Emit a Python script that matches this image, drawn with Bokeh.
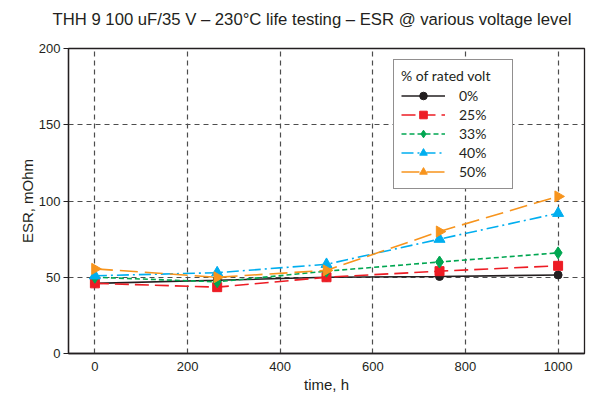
import math
from bokeh.plotting import figure
from bokeh.models import Legend, LegendItem, FixedTicker, Range1d, ColumnDataSource
from bokeh.embed import file_html
from bokeh.resources import INLINE

time_h = [0, 264, 500, 744, 1000]
esr_0 = [46, 48, 50, 50.5, 51.5]
esr_25 = [46, 43.5, 50, 54, 57.5]
esr_33 = [50, 47, 54, 60, 66]
esr_40 = [51, 53, 58.5, 75, 92]
esr_50 = [55.5, 50, 54.5, 80, 103]
series_labels = ["0%", "25%", "33%", "40%", "50%"]
x_ticks = [0, 200, 400, 600, 800, 1000]
y_ticks = [0, 50, 100, 150, 200]
title_text = "THH 9 100 uF/35 V \u2013 230\u00b0C life testing \u2013 ESR @ various voltage level"

FONT = "Liberation Sans"
LFONT = "Lato"

p = figure(width=595, height=395, output_backend="svg", toolbar_location=None,
           x_range=Range1d(-57, 1057), y_range=Range1d(0, 200),
           min_border_left=68, min_border_right=11, min_border_top=48, min_border_bottom=40)

p.title.text = title_text
p.title.text_font = FONT
p.title.text_font_size = "16.7px"
p.title.text_font_style = "normal"
p.title.align = "left"
p.title.text_color = "#231f20"
p.title.offset = -16
p.title.standoff = 0
p.title.padding = dict(left=0, right=0, top=6, bottom=20)

p.outline_line_color = "#231f20"
p.outline_line_width = 1.3
p.outline_line_alpha = 1

for ax in (p.xaxis, p.yaxis):
    ax.axis_line_color = "#231f20"
    ax.axis_line_width = 1.3
    ax.major_label_text_font = FONT
    ax.major_label_text_font_size = "13px"
    ax.major_label_text_color = "#231f20"
    ax.axis_label_text_font = FONT
    ax.axis_label_text_font_size = "15px"
    ax.axis_label_text_font_style = "normal"
    ax.axis_label_text_color = "#231f20"
    ax.minor_tick_line_color = None
    ax.major_tick_line_color = "#231f20"
    ax.major_tick_line_width = 1.2
    ax.major_tick_in = 0

p.xaxis.ticker = FixedTicker(ticks=x_ticks)
p.yaxis.ticker = FixedTicker(ticks=y_ticks)
p.xaxis.major_tick_out = 0
p.xaxis.major_label_standoff = 8
p.yaxis.major_tick_out = 5
p.yaxis.major_label_standoff = 3
p.xaxis.axis_label = "time, h"
p.yaxis.axis_label = "ESR, mOhm"
p.xaxis.axis_label_standoff = 2
p.yaxis.axis_label_standoff = 0

p.xgrid.ticker = FixedTicker(ticks=x_ticks)
p.ygrid.ticker = FixedTicker(ticks=y_ticks)
for g in (p.xgrid, p.ygrid):
    g.grid_line_color = "#4d4d4d"
    g.grid_line_dash = "5 4"
    g.grid_line_width = 1.2

specs = [
    (esr_0, "#231f20", "solid", "circle", 8, 0),
    (esr_25, "#ed1c24", "14 6", "square", 9, 0),
    (esr_33, "#00a651", "5 3", "diamond", 12, 0),
    (esr_40, "#00aeef", "12 4 2 4", "triangle", 11, 0),
    (esr_50, "#f7941d", "18 7", "triangle", 11, -math.pi / 2),
]

items = []
for (vals, color, dash, marker, size, ang), lab in zip(specs, series_labels):
    src = ColumnDataSource(dict(x=time_h, y=vals))
    lr = p.line("x", "y", source=src, line_color=color, line_width=1.6, line_dash=dash)
    sr = p.scatter("x", "y", source=src, marker=marker, size=size, angle=ang,
                   fill_color=color, line_color=color)
    items.append(LegendItem(label=lab, renderers=[lr, sr]))

legend = Legend(items=items, location=(325, 164))
legend.title = "% of rated volt"
legend.title_text_font = LFONT
legend.title_text_font_size = "14px"
legend.title_text_font_style = "normal"
legend.title_text_color = "#231f20"
legend.title_standoff = 2
legend.label_text_font = LFONT
legend.label_text_font_size = "14px"
legend.label_text_color = "#231f20"
legend.glyph_width = 44
legend.glyph_height = 19
legend.label_height = 19
legend.label_width = 46
legend.label_standoff = 14
legend.spacing = 0
legend.padding = 7
legend.margin = 0
legend.border_line_color = "#231f20"
legend.border_line_width = 1.3
legend.background_fill_color = "white"
legend.background_fill_alpha = 1
p.add_layout(legend, "center")

open("out.html", "w").write(file_html(p, INLINE))
